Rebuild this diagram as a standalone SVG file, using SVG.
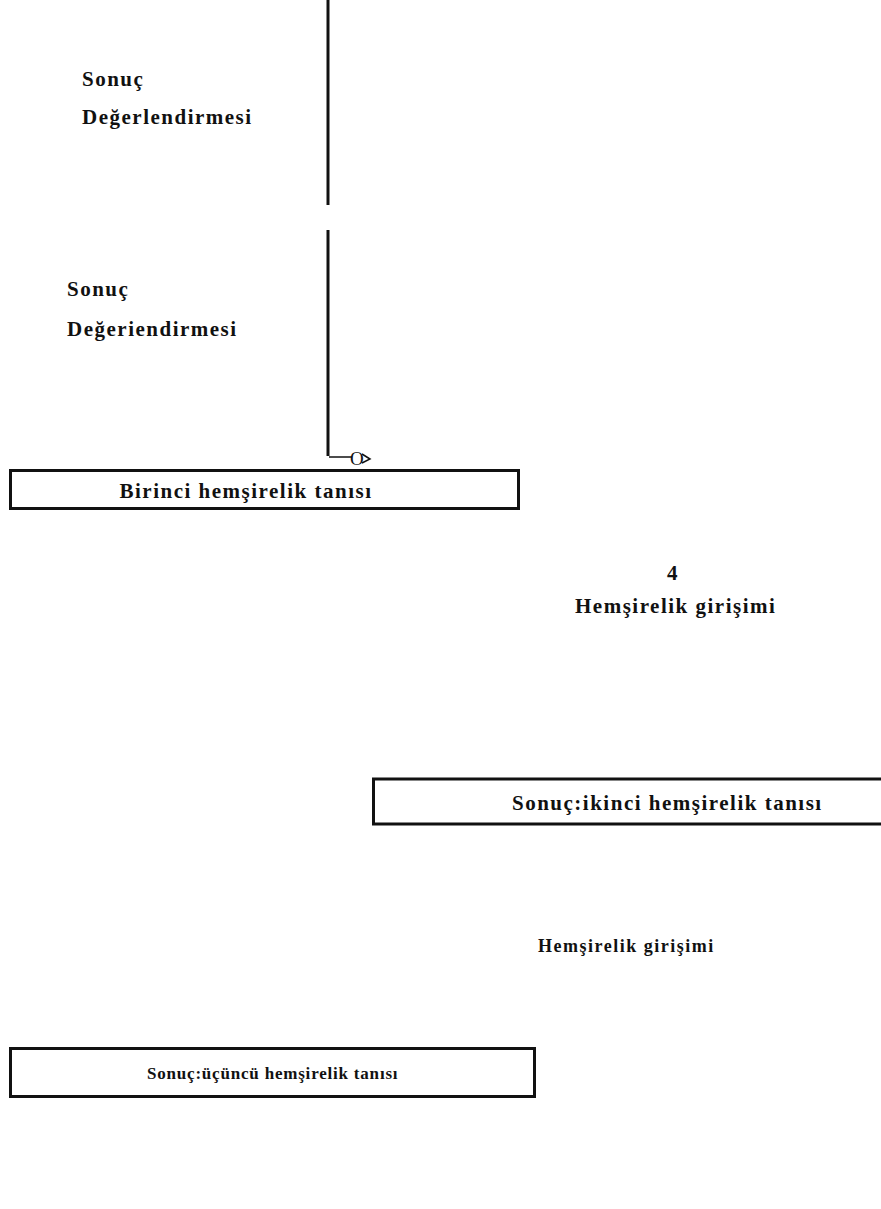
<svg xmlns="http://www.w3.org/2000/svg" width="881" height="1209" viewBox="0 0 881 1209">
<style>
text{font-family:"Liberation Serif","Times New Roman",serif;font-weight:bold;fill:#111;letter-spacing:1.5px}
.box{fill:#fff;stroke:#111;stroke-width:3}
.line{stroke:#111;stroke-width:3;fill:none}
.thin{stroke:#111;stroke-width:1.5;fill:none}
.l{font-size:21px}
.s{font-size:18px}
.xs{font-size:17px;letter-spacing:0.8px}
</style>
<rect width="881" height="1209" fill="#fff"/>
<g id="connectors">
<line class="line" x1="328" y1="0" x2="328" y2="205"/>
<line class="line" x1="328" y1="230" x2="328" y2="456"/>
<line class="thin" x1="329" y1="457" x2="352" y2="457"/>
<text x="350" y="465" style="font-size:19px;font-weight:normal;letter-spacing:0">O</text>
<path class="thin" d="M362 454 L370 459 L362 463" />
</g>
<g id="eval1">
<text class="l" x="82" y="86">Sonuç</text>
<text class="l" x="82" y="124">Değerlendirmesi</text>
</g>
<g id="eval2">
<text class="l" x="67" y="296">Sonuç</text>
<text class="l" x="67" y="336">Değeriendirmesi</text>
</g>
<g id="box1">
<rect class="box" x="10.5" y="470.5" width="508" height="38"/>
<text class="l" x="246" y="498" text-anchor="middle">Birinci hemşirelik tanısı</text>
</g>
<g id="intervention1">
<text class="l" x="673" y="580" text-anchor="middle">4</text>
<text class="l" x="575" y="613">Hemşirelik girişimi</text>
</g>
<g id="box2">
<rect class="box" x="373.5" y="779" width="512" height="45"/>
<text class="l" x="512" y="810">Sonuç:ikinci hemşirelik tanısı</text>
</g>
<g id="intervention2">
<text class="s" x="538" y="952">Hemşirelik girişimi</text>
</g>
<g id="box3">
<rect class="box" x="10.5" y="1048.5" width="524" height="48"/>
<text class="xs" x="147" y="1079">Sonuç:üçüncü hemşirelik tanısı</text>
</g>
</svg>
